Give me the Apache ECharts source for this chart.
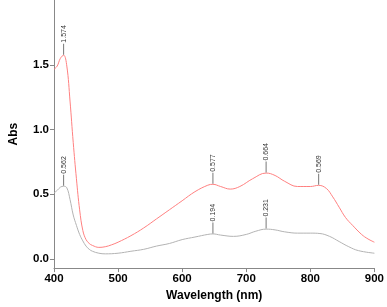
<!DOCTYPE html>
<html lang="en">
<head>
    <meta charset="UTF-8">
    <title>Abs spectrum</title>
    <script type="text/javascript" src="https://cdn.jsdelivr.net/npm/echarts@6/dist/echarts.min.js"></script>
    <style>
        html, body { margin: 0; padding: 0; background: #fff; }
    </style>
</head>
<body>
    <div id="charts" style="width:387px;height:307px;"></div>
</body>
<script type="text/javascript">
    // wavelength (nm) and absorbance
    var redWl = [400, 405, 410, 415, 420, 425, 430, 435, 440, 445, 450, 455, 460, 470, 480, 490, 500, 520, 540, 560, 580, 600, 620, 640, 648, 660, 675, 690, 710, 731, 745, 760, 780, 800, 813, 825, 835, 845, 855, 866, 880, 890, 900];
    var redAbs = [1.465, 1.49, 1.55, 1.574, 1.49, 1.22, 0.9, 0.62, 0.38, 0.22, 0.15, 0.12, 0.105, 0.09, 0.095, 0.11, 0.13, 0.18, 0.24, 0.31, 0.38, 0.45, 0.52, 0.57, 0.577, 0.56, 0.54, 0.56, 0.62, 0.664, 0.645, 0.6, 0.56, 0.56, 0.569, 0.545, 0.48, 0.4, 0.32, 0.26, 0.19, 0.155, 0.13];
    var greyWl = [400, 405, 410, 415, 420, 425, 430, 435, 440, 445, 450, 455, 460, 470, 480, 500, 520, 540, 560, 580, 600, 620, 640, 648, 660, 680, 700, 715, 731, 745, 760, 780, 800, 815, 830, 845, 860, 875, 900];
    var greyAbs = [0.51, 0.53, 0.555, 0.562, 0.55, 0.46, 0.34, 0.26, 0.19, 0.14, 0.1, 0.075, 0.06, 0.045, 0.04, 0.045, 0.06, 0.075, 0.1, 0.12, 0.15, 0.17, 0.19, 0.194, 0.185, 0.175, 0.19, 0.215, 0.231, 0.225, 0.21, 0.2, 0.2, 0.197, 0.175, 0.135, 0.095, 0.065, 0.045];
    // peak annotations
    var redPeaks = [[415, 1.574], [648, 0.577], [731, 0.664], [813, 0.569]];
    var greyPeaks = [[415, 0.562], [648, 0.194], [731, 0.231]];
    var yTicks = [0, 0.5, 1.0, 1.5];

    function pairs(xs, ys) {
        return xs.map(function (x, i) { return [x, ys[i]]; });
    }

    function peakMarks(peaks) {
        return {
            symbol: 'rect',
            symbolSize: [1, 11],
            symbolOffset: [0, -6],
            itemStyle: { color: '#777' },
            label: {
                show: true,
                position: 'top',
                distance: 1,
                rotate: 90,
                align: 'left',
                verticalAlign: 'middle',
                fontSize: 7,
                color: '#333',
                fontFamily: 'Liberation Sans',
                formatter: function (p) { return p.data.coord[1].toFixed(3); }
            },
            data: peaks.map(function (p) { return { coord: p }; })
        };
    }

    var myChart = echarts.init(document.getElementById('charts'));

    var option = {
        animation: false,
        textStyle: { fontFamily: 'Liberation Sans' },
        grid: { left: 42, right: 11, top: 0, bottom: 34 },
        xAxis: {
            type: 'value',
            min: 400,
            max: 900,
            interval: 100,
            name: 'Wavelength (nm)',
            nameLocation: 'middle',
            nameGap: 21,
            nameTextStyle: { fontWeight: 'bold', fontSize: 12, color: '#000' },
            axisLine: { onZero: false, lineStyle: { color: '#888' } },
            axisTick: { length: 4, lineStyle: { color: '#888' } },
            axisLabel: { fontWeight: 'bold', fontSize: 11.5, color: '#000', margin: 5 },
            splitLine: { show: false }
        },
        yAxis: {
            type: 'value',
            min: -0.07,
            max: 2.0,
            name: 'Abs',
            nameLocation: 'middle',
            nameGap: 34,
            nameTextStyle: { fontWeight: 'bold', fontSize: 12, color: '#000' },
            axisLine: { show: true, onZero: false, lineStyle: { color: '#888' } },
            axisTick: { show: true, length: 4, customValues: yTicks, lineStyle: { color: '#888' } },
            axisLabel: {
                fontWeight: 'bold', fontSize: 11.5, color: '#000', margin: 5,
                customValues: yTicks,
                formatter: function (v) { return v.toFixed(1); }
            },
            splitLine: { show: false }
        },
        series: [{
            type: 'line',
            data: pairs(redWl, redAbs),
            smooth: 0.4,
            showSymbol: false,
            lineStyle: { color: '#ff8080', width: 1 },
            markPoint: peakMarks(redPeaks)
        }, {
            type: 'line',
            data: pairs(greyWl, greyAbs),
            smooth: 0.4,
            showSymbol: false,
            lineStyle: { color: '#b3b3b3', width: 1 },
            markPoint: peakMarks(greyPeaks)
        }]
    };

    myChart.setOption(option);
</script>
</html>
